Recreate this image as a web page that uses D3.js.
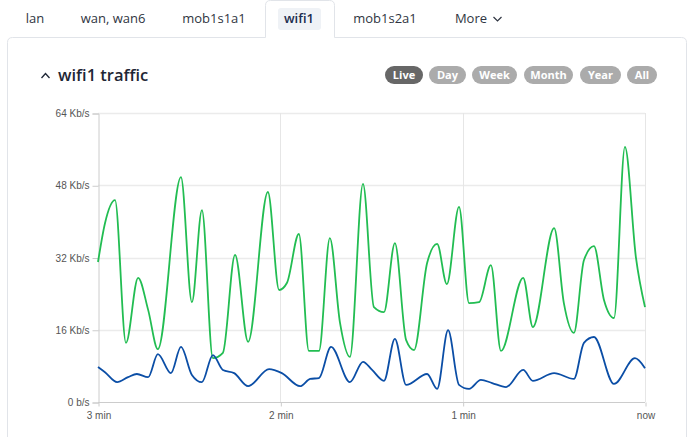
<!DOCTYPE html>
<html><head><meta charset="utf-8">
<script src="https://cdn.jsdelivr.net/npm/d3@7"></script>
<style>
html,body{margin:0;padding:0;background:#fff;}
svg{display:block;}
</style></head>
<body>
<svg id="c" width="690" height="437"></svg>
<script>
// ---- data ----
const tabs = ["lan", "wan, wan6", "mob1s1a1", "wifi1", "mob1s2a1", "More"];
const activeTab = "wifi1";
const periods = ["Live", "Day", "Week", "Month", "Year", "All"];
const title = "wifi1 traffic";
// seconds ago
const rxTimes = [180,177.7,174.4,170.8,166.8,163.5,160.3,152.7,149.1,145.8,142.2,138.9,134.9,130.6,124.1,120.4,117.8,113.9,110.6,107.3,103.7,100.4,97.1,92.8,89.2,85.9,82.3,78.6,76.0,71.7,68.4,65.2,61.2,57.9,54.6,50.7,47.4,40.1,36.9,29.9,26.7,23.4,20.1,16.8,13.5,10.2,6.6,3.0,0];
const rxValues = [31.0,39.6,44.7,13.1,27.5,20.4,11.7,49.8,22.1,42.5,9.7,10.9,32.6,13.3,46.5,24.8,26.4,37.2,11.3,11.3,36.3,17.7,10.0,48.3,21.0,19.9,35.2,13.7,11.5,30.8,35.0,26.1,43.2,21.9,22.1,30.3,11.3,27.5,16.6,38.5,21.9,15.3,31.4,34.5,22.6,18.6,56.5,32.1,21.0];
const txTimes = [180,177.7,173.7,170.1,167.2,163.5,160.3,156.0,152.7,149.1,145.8,142.2,138.9,135.2,130.6,123.7,119.5,113.5,110.2,107.3,103.3,97.1,92.8,89.8,85.9,82.3,78.6,71.7,68.4,64.8,61.2,57.9,54.0,50.3,45.7,40.1,36.9,29.9,23.4,20.1,16.8,10.2,3.3,0];
const txValues = [7.75,6.6,4.4,5.5,6.2,5.5,10.6,6.4,12.2,6.0,4.4,10.4,7.1,6.4,3.5,7.3,6.4,3.5,5.1,5.3,12.2,4.4,8.9,7.1,4.7,14.0,3.8,6.2,2.9,15.9,3.8,2.9,4.9,4.2,3.3,7.1,4.7,6.4,5.1,13.1,14.4,4.0,9.7,7.5];
const yTicks = [0, 16, 32, 48, 64];
const yTickLabels = ["0 b/s", "16 Kb/s", "32 Kb/s", "48 Kb/s", "64 Kb/s"];
const xTicks = [180, 120, 60, 0];
const xTickLabels = ["3 min", "2 min", "1 min", "now"];

(function () {
const svg = d3.select("#c");
const UI = "'Open Sans', 'Noto Sans', sans-serif";
const AX = "'Liberation Sans', Arial, sans-serif";
const border = "#e1e4e9";

// ---- panel + active tab outline ----
const tabL = 265.5, tabR = 334.5, tTop = 0.5, pTop = 37.5, pL = 7.5, pR = 686.5, r = 5;
svg.append("path")
  .attr("d", `M${pL},440 L${pL},${pTop+r} Q${pL},${pTop} ${pL+r},${pTop} L${tabL},${pTop} L${tabL},${tTop+r} Q${tabL},${tTop} ${tabL+r},${tTop} L${tabR-r},${tTop} Q${tabR},${tTop} ${tabR},${tTop+r} L${tabR},${pTop} L${pR-r},${pTop} Q${pR},${pTop} ${pR},${pTop+r} L${pR},440`)
  .attr("fill", "none").attr("stroke", border).attr("stroke-width", 1);

// ---- tabs ----
const tabX = {"lan":35, "wan, wan6":113, "mob1s1a1":214, "wifi1":299, "mob1s2a1":385, "More":471};
svg.append("rect").attr("x", 278).attr("y", 8).attr("width", 43).attr("height", 22).attr("rx", 3).attr("fill", "#eff2f6");
tabs.forEach(t => {
  svg.append("text").attr("x", tabX[t]).attr("y", 23).attr("text-anchor", "middle")
    .attr("font-family", UI).attr("font-size", 13)
    .attr("font-weight", t === activeTab ? 600 : 400)
    .attr("fill", t === activeTab ? "#1c2d4f" : "#2f3542").text(t);
});
svg.append("path").attr("d", "M493.5,17 L497.5,21 L501.5,17").attr("fill", "none").attr("stroke", "#2f3542").attr("stroke-width", 1.2);

// ---- title ----
svg.append("path").attr("d", "M41.5,78 L45.5,73.5 L49.5,78").attr("fill", "none").attr("stroke", "#1e2635").attr("stroke-width", 1.3);
svg.append("text").attr("x", 58).attr("y", 81).attr("font-family", UI).attr("font-size", 16.5).attr("font-weight", 600).attr("fill", "#1e2635").text(title);

// ---- period buttons ----
const btnX = [385, 429, 472, 524, 580, 627];
const btnW = [38, 37, 45, 49, 41, 30];
periods.forEach((p, i) => {
  const g = svg.append("g");
  g.append("rect").attr("x", btnX[i]).attr("y", 66).attr("width", btnW[i]).attr("height", 18).attr("rx", 9)
    .attr("fill", i === 0 ? "#676767" : "#ababab");
  g.append("text").attr("x", btnX[i] + btnW[i]/2).attr("y", 79).attr("text-anchor", "middle")
    .attr("font-family", UI).attr("font-size", 11).attr("font-weight", 700).attr("fill", "#fff").text(p);
});

// ---- chart ----
const x = d3.scaleLinear().domain([180, 0]).range([98, 645]);
const y = d3.scaleLinear().domain([0, 64]).range([402, 113]);

const grid = svg.append("g");
grid.selectAll("line.h").data(yTicks.filter(d => d > 0)).join("line")
  .attr("x1", 98).attr("x2", 645).attr("y1", d => Math.round(y(d)) + 0.5).attr("y2", d => Math.round(y(d)) + 0.5)
  .attr("stroke", "#ebebeb").attr("stroke-width", 1.5);
grid.selectAll("line.v").data(xTicks.filter(d => d < 180)).join("line")
  .attr("x1", d => Math.round(x(d)) + 0.5).attr("x2", d => Math.round(x(d)) + 0.5).attr("y1", 113).attr("y2", 402)
  .attr("stroke", "#e6e6e6").attr("stroke-width", 1);

const yAxis = d3.axisLeft(y).tickValues(yTicks).tickFormat((d, i) => yTickLabels[i]).tickSize(6).tickPadding(3);
const gy = svg.append("g").attr("transform", "translate(98.5,0.5)").call(yAxis);
const xAxis = d3.axisBottom(x).tickValues(xTicks).tickFormat((d, i) => xTickLabels[i]).tickSize(4).tickPadding(5);
const gx = svg.append("g").attr("transform", "translate(0.5,402.5)").call(xAxis);
[gy, gx].forEach(g => {
  g.select(".domain").attr("stroke", "#cccccc");
  g.selectAll(".tick line").attr("stroke", "#cccccc");
  g.selectAll(".tick text").attr("font-family", AX).attr("font-size", 10).attr("fill", "#555");
});
gx.select(".domain").attr("d", "M97.5,0H644.5");

const line = d3.line().curve(d3.curveMonotoneX).x(d => x(d[0])).y(d => y(d[1]));
const rx = rxTimes.map((t, i) => [t, rxValues[i]]).reverse();
const tx = txTimes.map((t, i) => [t, txValues[i]]).reverse();
svg.append("path").datum(rx).attr("d", line).attr("fill", "none").attr("stroke", "#22bd52").attr("stroke-width", 1.8);
svg.append("path").datum(tx).attr("d", line).attr("fill", "none").attr("stroke", "#0b4ea6").attr("stroke-width", 1.8);
})();
</script>
</body></html>
